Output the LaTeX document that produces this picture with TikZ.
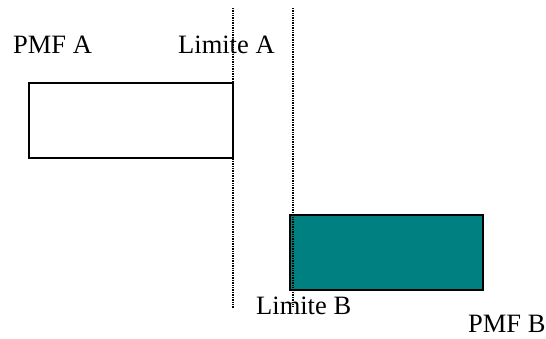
\documentclass[tikz,border=0pt]{standalone}
\usepackage{fontspec}
\setmainfont{Liberation Serif}
\begin{document}
\begin{tikzpicture}[x=1pt,y=-1pt,
  label/.style={anchor=base west,inner sep=0pt,font=\fontsize{26.5}{30}\selectfont},
  limitline/.style={dash pattern=on 1pt off 0.7pt,line width=1.2pt},
  pmfbox/.style={draw,line width=1.2pt}]
\useasboundingbox (0,0) rectangle (546,338);
% limits
\coordinate (la1) at (233,8);
\coordinate (la2) at (233,308);
\coordinate (lb1) at (293,8);
\coordinate (lb2) at (293,306);
% boxes
\path[pmfbox] (29,83) rectangle (233,158);
\path[pmfbox,fill={rgb,255:red,0;green,128;blue,128}] (290,215) rectangle (483,290);
\draw[limitline] (la1) -- (la2);
\draw[limitline] (lb1) -- (lb2);
% labels
\node[label] (pa) at (13,53) {PMF A};
\node[label] (la) at (178,53) {Limite A};
\node[label] (lb) at (256,314) {Limite B};
\node[label] (pb) at (468,332) {PMF B};
\end{tikzpicture}
\end{document}
